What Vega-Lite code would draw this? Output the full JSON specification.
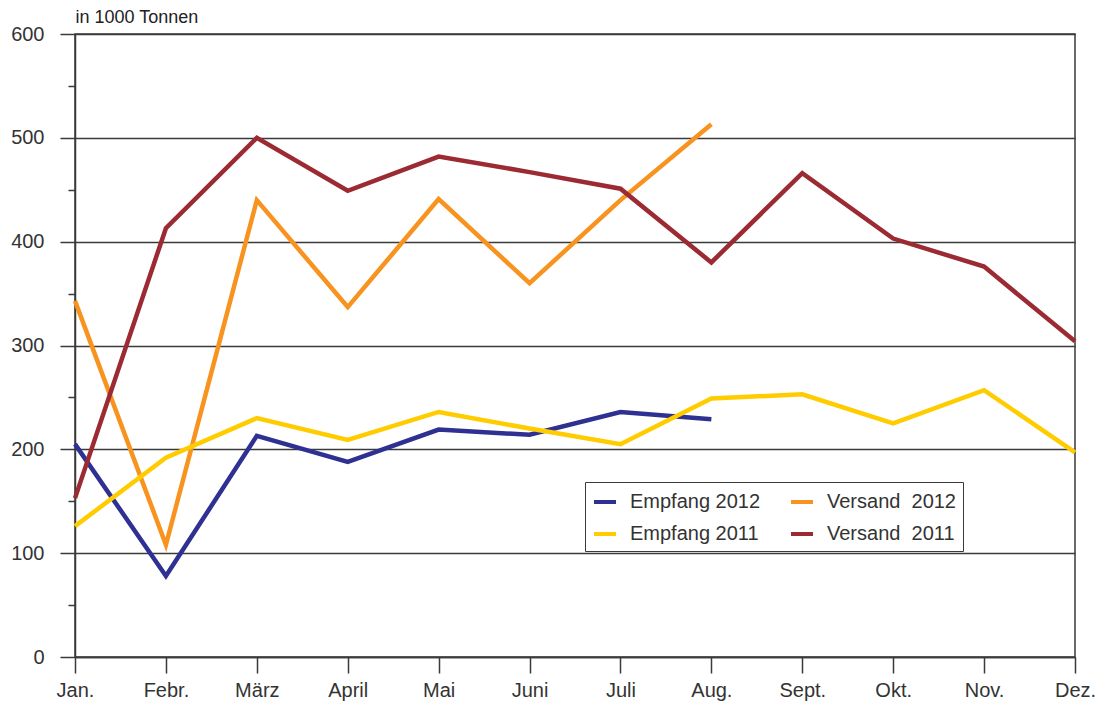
{
  "$schema": "https://vega.github.io/schema/vega-lite/v6.json",
  "width": 1000,
  "height": 623,
  "autosize": "none",
  "padding": {"left": 75, "top": 34, "right": 25, "bottom": 51},
  "background": "white",
  "config": {
    "font": "Liberation Sans",
    "view": {"stroke": "#3a3a3a", "strokeWidth": 1.5}
  },
  "data": {
    "values": [
      {"m": "Jan.", "s": "Empfang 2012", "v": 205},
      {"m": "Febr.", "s": "Empfang 2012", "v": 78},
      {"m": "März", "s": "Empfang 2012", "v": 213},
      {"m": "April", "s": "Empfang 2012", "v": 188},
      {"m": "Mai", "s": "Empfang 2012", "v": 219},
      {"m": "Juni", "s": "Empfang 2012", "v": 214},
      {"m": "Juli", "s": "Empfang 2012", "v": 236},
      {"m": "Aug.", "s": "Empfang 2012", "v": 229},
      {"m": "Jan.", "s": "Versand\u00a0 2012", "v": 343},
      {"m": "Febr.", "s": "Versand\u00a0 2012", "v": 108},
      {"m": "März", "s": "Versand\u00a0 2012", "v": 440},
      {"m": "April", "s": "Versand\u00a0 2012", "v": 337},
      {"m": "Mai", "s": "Versand\u00a0 2012", "v": 441},
      {"m": "Juni", "s": "Versand\u00a0 2012", "v": 360},
      {"m": "Juli", "s": "Versand\u00a0 2012", "v": 440},
      {"m": "Aug.", "s": "Versand\u00a0 2012", "v": 513},
      {"m": "Jan.", "s": "Empfang 2011", "v": 126},
      {"m": "Febr.", "s": "Empfang 2011", "v": 192},
      {"m": "März", "s": "Empfang 2011", "v": 230},
      {"m": "April", "s": "Empfang 2011", "v": 209},
      {"m": "Mai", "s": "Empfang 2011", "v": 236},
      {"m": "Juni", "s": "Empfang 2011", "v": 220},
      {"m": "Juli", "s": "Empfang 2011", "v": 205},
      {"m": "Aug.", "s": "Empfang 2011", "v": 249},
      {"m": "Sept.", "s": "Empfang 2011", "v": 253},
      {"m": "Okt.", "s": "Empfang 2011", "v": 225},
      {"m": "Nov.", "s": "Empfang 2011", "v": 257},
      {"m": "Dez.", "s": "Empfang 2011", "v": 197},
      {"m": "Jan.", "s": "Versand\u00a0 2011", "v": 153},
      {"m": "Febr.", "s": "Versand\u00a0 2011", "v": 413},
      {"m": "März", "s": "Versand\u00a0 2011", "v": 500},
      {"m": "April", "s": "Versand\u00a0 2011", "v": 449},
      {"m": "Mai", "s": "Versand\u00a0 2011", "v": 482},
      {"m": "Juni", "s": "Versand\u00a0 2011", "v": 467},
      {"m": "Juli", "s": "Versand\u00a0 2011", "v": 451},
      {"m": "Aug.", "s": "Versand\u00a0 2011", "v": 380},
      {"m": "Sept.", "s": "Versand\u00a0 2011", "v": 466},
      {"m": "Okt.", "s": "Versand\u00a0 2011", "v": 403},
      {"m": "Nov.", "s": "Versand\u00a0 2011", "v": 376},
      {"m": "Dez.", "s": "Versand\u00a0 2011", "v": 304}
    ]
  },
  "mark": {"type": "line", "strokeWidth": 4.5, "strokeJoin": "miter", "strokeCap": "butt"},
  "encoding": {
    "x": {
      "field": "m",
      "type": "nominal",
      "sort": ["Jan.", "Febr.", "März", "April", "Mai", "Juni", "Juli", "Aug.", "Sept.", "Okt.", "Nov.", "Dez."],
      "scale": {"type": "point", "padding": 0},
      "axis": {
        "title": null,
        "labelAngle": 0,
        "labelFontSize": 20,
        "labelColor": "#333",
        "labelPadding": 7,
        "tickSize": 16,
        "tickColor": "#3a3a3a",
        "tickWidth": 1.5,
        "domainColor": "#3a3a3a",
        "domainWidth": 1.5,
        "grid": false
      }
    },
    "y": {
      "field": "v",
      "type": "quantitative",
      "scale": {"domain": [0, 600], "nice": false},
      "axis": {
        "values": [0, 50, 100, 150, 200, 250, 300, 350, 400, 450, 500, 550, 600],
        "labelExpr": "datum.value % 100 === 0 ? datum.label : ''",
        "labelFontSize": 20,
        "labelColor": "#333",
        "labelPadding": 16,
        "tickSize": {"condition": {"test": "datum.value % 100 === 0", "value": 15}, "value": 7},
        "tickColor": "#3a3a3a",
        "tickWidth": 1.5,
        "domainColor": "#3a3a3a",
        "domainWidth": 1.5,
        "grid": true,
        "gridColor": "#3a3a3a",
        "gridWidth": 1.5,
        "gridOpacity": {"condition": {"test": "datum.value % 100 === 0", "value": 1}, "value": 0},
        "title": "in 1000 Tonnen",
        "titleAngle": 0,
        "titleAlign": "left",
        "titleBaseline": "alphabetic",
        "titleFontSize": 18,
        "titleFontWeight": "normal",
        "titleColor": "#222",
        "titleX": 0,
        "titleY": -12
      }
    },
    "color": {
      "field": "s",
      "type": "nominal",
      "scale": {
        "domain": ["Empfang 2012", "Empfang 2011", "Versand\u00a0 2012", "Versand\u00a0 2011"],
        "range": ["#2e3192", "#ffcc00", "#f7931e", "#9b2a33"]
      },
      "legend": {
        "title": null,
        "orient": "none",
        "legendX": 510,
        "legendY": 448,
        "columns": 2,
        "columnPadding": 22,
        "rowPadding": 9,
        "padding": 7,
        "strokeColor": "#3a3a3a",
        "fillColor": "white",
        "symbolType": "stroke",
        "symbolStrokeWidth": 4,
        "symbolSize": 484,
        "labelFontSize": 20,
        "labelColor": "#333",
        "labelOffset": 12,
        "labelLimit": 300
      }
    }
  }
}
